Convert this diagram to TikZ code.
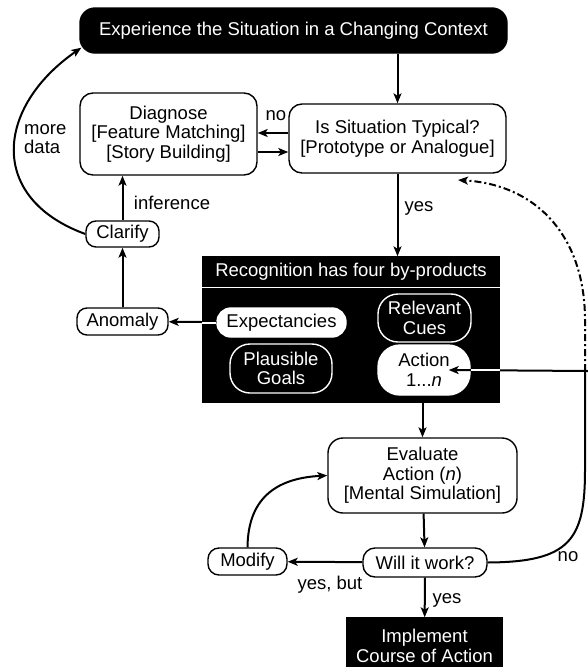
\documentclass[tikz,border=0pt]{standalone}
\usepackage{fontspec}
\setmainfont{Liberation Sans}
\usetikzlibrary{arrows.meta}

\tikzset{
	kasten/.style={draw, line width=1.4pt, fill=white, align=center, inner sep=0pt, rounded corners=13pt, font=\fontsize{18.5}{19.5}\selectfont},
	dunkel/.style={kasten, fill=black, text=white},
	beschriftung/.style={align=center, inner sep=0pt, font=\fontsize{18.5}{19.5}\selectfont},
	pfeil/.style={-{Stealth[length=10pt,width=8pt,inset=2.5pt]}, line width=2pt}
}

\begin{document}
\begin{tikzpicture}[x=1pt, y=-1pt]
%\draw [lightgray](0,0) grid (587,667);
\useasboundingbox (0,0) rectangle (587,667);

	% Zeichnet die Kopfzeile oben
	\node[dunkel, minimum width=427pt, minimum height=45pt, rounded corners=15pt] (erleben) at (293.5,30.5) {Experience the Situation in a Changing Context};

	% Zeichnet die Frage und die Diagnose
	\node[kasten, minimum width=217pt, minimum height=69pt] (typisch) at (397.5,138.5) {Is Situation Typical?\\{[}Prototype or Analogue{]}};
	\node[kasten, minimum width=177pt, minimum height=82pt] (diagnose) at (168.5,134) {Diagnose\\{[}Feature Matching{]}\\{[}Story Building{]}};

	% Zeichnet Clarify und Anomaly
	\node[kasten, minimum width=73pt, minimum height=26pt, rounded corners=10pt] (klaeren) at (122.5,234) {Clarify};
	\node[kasten, minimum width=91pt, minimum height=27pt, rounded corners=10pt] (anomalie) at (122.5,321.5) {Anomaly};

	% Zeichnet den schwarzen Block mit den vier Nebenprodukten
	\node[dunkel, rounded corners=0pt, minimum width=296pt, minimum height=29pt] (kopf) at (351,271.5) {Recognition has four by-products};
	\node[dunkel, rounded corners=0pt, minimum width=296pt, minimum height=113pt] (rumpf) at (351,345.5) {};

	\node[kasten, draw=white, minimum width=129pt, minimum height=29pt, rounded corners=14pt] (erwartung) at (281.5,322.5) {Expectancies};
	\node[dunkel, draw=white, minimum width=93pt, minimum height=48pt, rounded corners=20pt] (hinweise) at (424.5,318) {Relevant\\Cues};
	\node[dunkel, draw=white, minimum width=102pt, minimum height=49pt, rounded corners=20pt] (ziele) at (281,368.5) {Plausible\\Goals};
	\node[kasten, draw=white, minimum width=92pt, minimum height=50pt, rounded corners=22pt] (handlung) at (424,370) {Action\\1...\textit{n}};

	% Zeichnet Bewertung, Frage und Modify
	\node[kasten, minimum width=189pt, minimum height=75pt, rounded corners=15pt] (bewerten) at (422.5,475.5) {Evaluate\\Action (\textit{n})\\{[}Mental Simulation{]}};
	\node[kasten, minimum width=124pt, minimum height=29pt, rounded corners=12pt] (klappt) at (425,562.5) {Will it work?};
	\node[kasten, minimum width=79pt, minimum height=27pt, rounded corners=11pt] (aendern) at (247.5,561.5) {Modify};

	% Zeichnet den Block unten
	\node[dunkel, rounded corners=0pt, minimum width=155pt, minimum height=56pt] (umsetzen) at (424.5,646) {Implement\\Course of Action};

	% Hilfspunkte rechts
	\coordinate (knoten) at (585,371);
	\coordinate (rand) at (588,371);
	\coordinate (spitze) at (458,180);

	% Pfeile oben
	\draw[pfeil] (erleben.south -| typisch.north) -- (typisch.north);
	\draw[pfeil] ([yshift=5.5pt]typisch.west) -- ([yshift=5.5pt]typisch.west -| diagnose.east);
	\draw[pfeil] ([yshift=-18pt]diagnose.east) -- ([yshift=-18pt]diagnose.east -| typisch.west);
	\draw[pfeil] (klaeren) -- (klaeren |- diagnose.south);
	\draw[pfeil] (klaeren.west) .. controls (-13,198) and (-4,107) .. ([xshift=2pt,yshift=6pt]erleben.south west);
	\draw[pfeil] (anomalie) -- (klaeren);
	\draw[pfeil] (typisch.south) -- (typisch.south |- kopf.north);

	% Pfeile aus dem schwarzen Block
	\draw[pfeil] (erwartung) -- (anomalie);
	\draw[white, line width=2pt] (erwartung.west) -- (erwartung.west -| rumpf.west);
	\draw[pfeil] (rand) -- ([xshift=-22pt]handlung.east);
	\draw[white, line width=2pt] (handlung.east) -- (handlung.east -| rumpf.east);
	\draw[pfeil] (bewerten.north |- rumpf.south) -- (bewerten.north);

	% Pfeile unten
	\draw[pfeil] (bewerten) -- (klappt);
	\draw[pfeil] (klappt) -- (aendern);
	\draw[pfeil] (aendern.north) .. controls (248,495) and (280,478) .. (bewerten.west);
	\draw[pfeil] (klappt) -- (umsetzen);
	\draw[line width=2pt] (klappt.east) .. controls (570,562) and (585,540) .. (585,470) -- (knoten);
	\draw[pfeil, dash pattern=on 7pt off 3pt on 2pt off 3pt] (knoten) -- (585,320) .. controls (585,240) and (540,185) .. (spitze);

	% Beschriftungen
	\node[beschriftung] (nein) at (276,116) {no};
	\node[beschriftung, align=left, anchor=west] (mehr) at (24,139) {more\\data};
	\node[beschriftung] (schluss) at (172,203) {inference};
	\node[beschriftung] (ja) at (419,208) {yes};
	\node[beschriftung] (jaaber) at (330,585) {yes, but};
	\node[beschriftung] (ja2) at (447,600) {yes};
	\node[beschriftung] (nein2) at (568,557) {no};

\end{tikzpicture}
\end{document}
